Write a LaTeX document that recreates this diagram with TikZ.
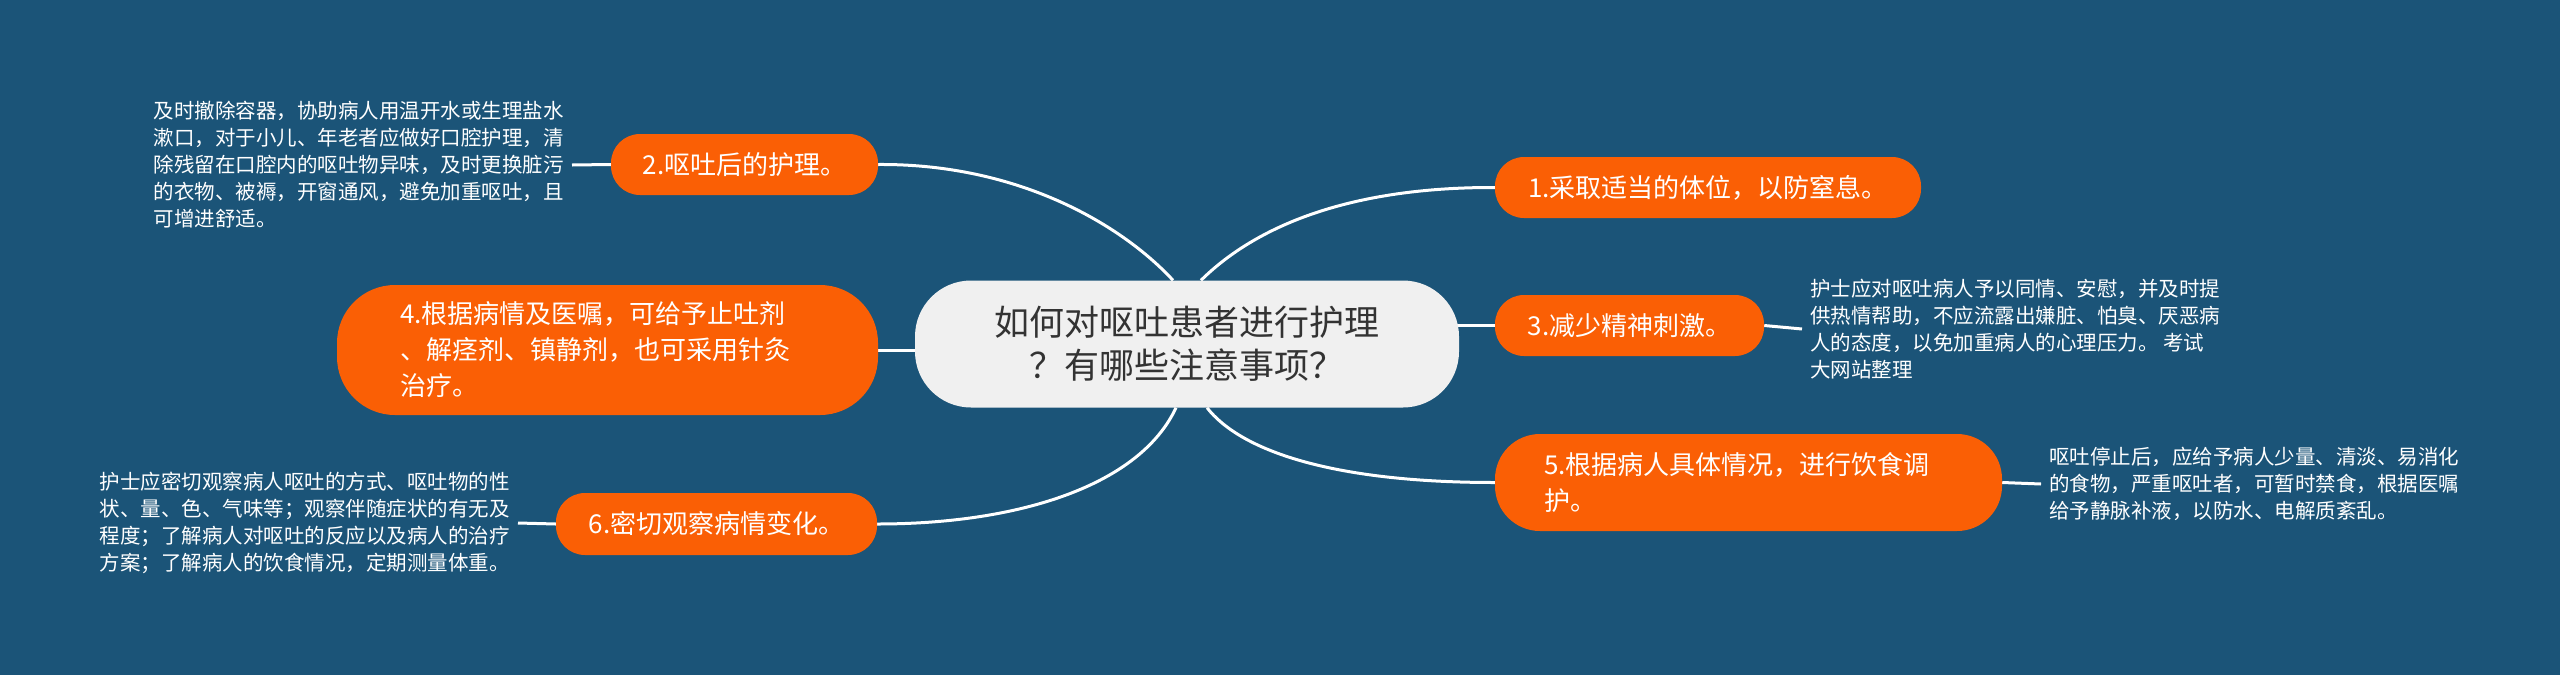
\documentclass[tikz,border=0pt]{standalone}
\usepackage{fontspec}
\setmainfont{Noto Sans CJK SC}
\usetikzlibrary{backgrounds,calc}
\definecolor{bgc}{HTML}{1B5478}
\definecolor{orgc}{HTML}{FA5F05}
\definecolor{cenc}{HTML}{F0F0F0}
\definecolor{ctext}{HTML}{333333}
\begin{document}
\begin{tikzpicture}[x=1pt,y=-1pt,
  topic/.style={fill=orgc, text=white, inner sep=0pt, font=\fontsize{26}{36}\selectfont, rounded corners=29pt},
  central/.style={fill=cenc, text=ctext, inner sep=0pt, align=center, font=\fontsize{35}{43}\selectfont, rounded corners=56pt},
  detail/.style={text=white, font=\fontsize{20.5}{27}\selectfont, align=left, inner xsep=8pt, inner ysep=0pt},
  link/.style={draw=white, line width=3pt}
]
\useasboundingbox (0,0) rectangle (2560,675);
% central topic
\node[central, minimum width=544pt, minimum height=127pt] (c) at (1187,344) {如何对呕吐患者进行护理\\？有哪些注意事项？};
% main topics
\node[topic, minimum width=426pt, minimum height=61pt] (n1) at (1708,187.5) {1.采取适当的体位，以防窒息。};
\node[topic, minimum width=267pt, minimum height=61pt] (n2) at (744.5,164.5) {2.呕吐后的护理。};
\node[topic, minimum width=269pt, minimum height=61pt] (n3) at (1629.5,325.5) {3.减少精神刺激。};
\node[topic, minimum width=541pt, minimum height=130pt, align=left, text width=415pt, rounded corners=58pt] (n4) at (607.5,350) {4.根据病情及医嘱，可给予止吐剂\\、解痉剂、镇静剂，也可采用针灸\\治疗。};
\node[topic, minimum width=507pt, minimum height=97pt, align=left, text width=409pt, rounded corners=45pt] (n5) at (1748.5,482.5) {5.根据病人具体情况，进行饮食调\\护。};
\node[topic, minimum width=321pt, minimum height=62pt] (n6) at (716.5,524) {6.密切观察病情变化。};
% details
\node[detail, anchor=east] (t2) at (572,165) {及时撤除容器，协助病人用温开水或生理盐水\\漱口，对于小儿、年老者应做好口腔护理，清\\除残留在口腔内的呕吐物异味，及时更换脏污\\的衣物、被褥，开窗通风，避免加重呕吐，且\\可增进舒适。};
\node[detail, anchor=west] (t3) at (1802,329) {护士应对呕吐病人予以同情、安慰，并及时提\\供热情帮助，不应流露出嫌脏、怕臭、厌恶病\\人的态度，以免加重病人的心理压力。 考试\\大网站整理};
\node[detail, anchor=west] (t5) at (2041,484) {呕吐停止后，应给予病人少量、清淡、易消化\\的食物，严重呕吐者，可暂时禁食，根据医嘱\\给予静脉补液，以防水、电解质紊乱。};
\node[detail, anchor=east] (t6) at (518,523) {护士应密切观察病人呕吐的方式、呕吐物的性\\状、量、色、气味等；观察伴随症状的有无及\\程度；了解病人对呕吐的反应以及病人的治疗\\方案；了解病人的饮食情况，定期测量体重。};
\begin{scope}[on background layer]
\fill[bgc] (0,0) rectangle (2560,675);
\draw[link] ($(c.north)+(14,0)$) .. controls (1251,231) and (1340,187) .. (n1.west);
\draw[link] ($(c.north)+(-14,0)$) .. controls (1123,226) and (1020,163.5) .. (n2.east);
\draw[link] ($(c.east |- n3.west)+(-10,0)$) -- (n3.west);
\draw[link] ($(c.west |- n4.east)+(10,0)$) -- (n4.east);
\draw[link] ($(c.south)+(20,0)$) .. controls (1240,450) and (1330,482.5) .. (n5.west);
\draw[link] ($(c.south)+(-11,0)$) .. controls (1140,485) and (1020,524) .. (n6.east);
\draw[link] (n2.west) -- (t2.east);
\draw[link] (n3.east) -- (t3.west);
\draw[link] (n5.east) -- (t5.west);
\draw[link] (n6.west) -- (t6.east);
\end{scope}
\end{tikzpicture}
\end{document}
